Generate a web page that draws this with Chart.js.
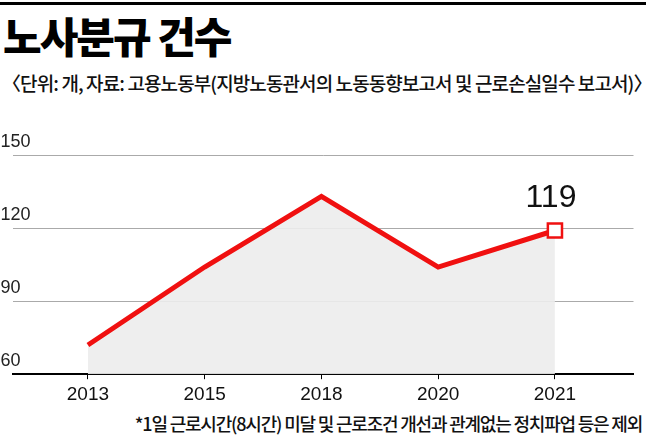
<!DOCTYPE html>
<html><head><meta charset="utf-8">
<script src="https://cdn.jsdelivr.net/npm/chart.js@4/dist/chart.umd.min.js"></script>
<style>
body{margin:0;width:646px;height:445px;background:#fff;position:relative;overflow:hidden;font-family:"Noto Sans CJK KR",sans-serif}
#topline{position:absolute;left:0;top:2px;width:646px;height:3px;background:#000}
#title{position:absolute;left:3px;top:10px;font-size:42px;font-weight:900;letter-spacing:-2px;color:#000;line-height:1.2}
#sub{position:absolute;left:2px;top:69px;font-size:19px;font-weight:500;letter-spacing:-0.9px;color:#111;white-space:nowrap}
#foot{position:absolute;right:4px;top:410px;font-size:18px;font-weight:500;letter-spacing:-1.2px;color:#111;white-space:nowrap}
#wrap{position:absolute;left:0;top:130px;width:646px;height:280px}
</style></head><body>
<div id="topline"></div>
<div id="title">노사분규 건수</div>
<div id="sub">〈단위: 개, 자료: 고용노동부(지방노동관서의 노동동향보고서 및 근로손실일수 보고서)〉</div>
<div id="wrap"><canvas id="c"></canvas></div>
<div id="foot">*1일 근로시간(8시간) 미달 및 근로조건 개선과 관계없는 정치파업 등은 제외</div>
<script>
const years=["2013","2015","2018","2020","2021"];
const counts=[72,104,133,104,119];
const yTicks=[60,90,120,150];
const lastLabel="119";
const pts=counts.map((v,i)=>({x:i,y:v}));
const labelPlugin={id:'lbl',afterDatasetsDraw(ch){const m=ch.getDatasetMeta(0).data;const p=m[m.length-1];const c=ch.ctx;c.save();c.font='500 32px "Liberation Sans Narrow","Liberation Sans",sans-serif';c.fillStyle='#111';c.textAlign='center';c.textBaseline='bottom';c.fillText(lastLabel,p.x-4,p.y-16);c.restore();}};
new Chart(document.getElementById('c'),{type:'line',
data:{datasets:[{data:pts,borderColor:'#f01010',borderWidth:5,fill:'start',backgroundColor:'rgba(236,236,236,0.9)',tension:0,
pointRadius:pts.map((p,i)=>i===pts.length-1?10:0),pointStyle:'rect',pointBackgroundColor:'#fff',pointBorderColor:'#f01010',pointBorderWidth:2.5}]},
options:{responsive:true,maintainAspectRatio:false,animation:false,events:[],
layout:{padding:{top:25,left:0,right:0,bottom:0}},
plugins:{legend:{display:false},tooltip:{enabled:false}},
scales:{
x:{type:'linear',min:-0.646,max:4.673,afterBuildTicks(a){a.ticks=years.map((y,i)=>({value:i}));},
ticks:{callback:(v)=>years[v],color:'#111',font:{size:19,family:'"Liberation Sans Narrow","Liberation Sans",sans-serif'},padding:4,maxRotation:0},
grid:{drawOnChartArea:false,color:'#000',tickLength:5},border:{color:'#000',width:2}},
y:{min:60,max:150,afterBuildTicks(a){a.ticks=yTicks.map(v=>({value:v}));},
ticks:{mirror:true,labelOffset:-13,padding:-4,color:'#222',font:{size:18,family:'"Liberation Sans Narrow","Liberation Sans",sans-serif'}},
grid:{color:'#aaa',borderDash:[1,3],drawTicks:false},border:{display:false}}}},
plugins:[labelPlugin]});
</script></body></html>
